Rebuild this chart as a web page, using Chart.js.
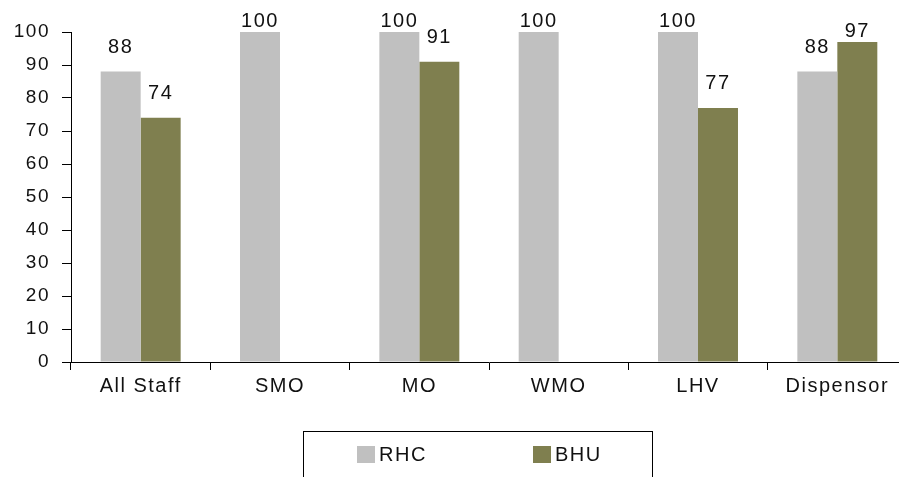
<!DOCTYPE html>
<html>
<head>
<meta charset="utf-8">
<script src="https://cdn.jsdelivr.net/npm/chart.js@4/dist/chart.umd.min.js"></script>
<style>
  html, body { margin: 0; padding: 0; background: #fff; overflow: hidden; }
  #wrap { width: 907px; height: 477px; }
</style>
</head>
<body>
<div id="wrap"><canvas id="c" width="907" height="477"></canvas></div>
<script>
// Staff categories and percentages per facility type
const categories = ['All Staff', 'SMO', 'MO', 'WMO', 'LHV', 'Dispensor'];
const rhcValues = [88, 100, 100, 100, 100, 88];
const bhuValues = [74, null, 91, null, 77, 97];
const seriesNames = ['RHC', 'BHU'];

const FONT = "'Liberation Sans', Arial, sans-serif";
const INK = '#111';

// Slightly widened lettering for all canvas text
const spacingPlugin = {
  id: 'spacing',
  beforeUpdate(chart) { chart.ctx.letterSpacing = '1.5px'; },
  beforeDraw(chart) { chart.ctx.letterSpacing = '1.5px'; }
};

// Value labels above each bar
const valueLabels = {
  id: 'valueLabels',
  afterDatasetsDraw(chart) {
    const ctx = chart.ctx;
    ctx.save();
    ctx.letterSpacing = '1.5px';
    ctx.font = '20px ' + FONT;
    ctx.fillStyle = INK;
    ctx.textAlign = 'center';
    ctx.textBaseline = 'alphabetic';
    chart.data.datasets.forEach((ds, i) => {
      const meta = chart.getDatasetMeta(i);
      meta.data.forEach((bar, j) => {
        const v = ds.data[j];
        if (v === null || v === undefined) return;
        const gap = v >= 95 ? 5 : 19;
        ctx.fillText(String(v), bar.x, bar.y - gap);
      });
    });
    ctx.restore();
  }
};

// Boxed legend below the plot
const boxLegend = {
  id: 'boxLegend',
  afterDraw(chart) {
    const ctx = chart.ctx;
    ctx.save();
    ctx.letterSpacing = '1.5px';
    ctx.strokeStyle = '#000';
    ctx.lineWidth = 1;
    ctx.strokeRect(303.5, 431.5, 349, 60);
    ctx.font = '20px ' + FONT;
    ctx.textBaseline = 'middle';
    ctx.textAlign = 'left';
    const itemX = [357, 533];
    chart.data.datasets.forEach((ds, i) => {
      const x = itemX[i];
      ctx.fillStyle = ds.backgroundColor;
      ctx.fillRect(x, 446, 18, 17);
      ctx.fillStyle = INK;
      ctx.fillText(ds.label, x + 22, 455);
    });
    ctx.restore();
  }
};

new Chart(document.getElementById('c'), {
  type: 'bar',
  data: {
    labels: categories,
    datasets: [
      { label: seriesNames[0], data: rhcValues, backgroundColor: '#c0c0c0' },
      { label: seriesNames[1], data: bhuValues, backgroundColor: '#7f7f4f' }
    ]
  },
  options: {
    responsive: false,
    animation: false,
    devicePixelRatio: 1,
    layout: { padding: { top: 32, left: 0, right: 0, bottom: 0 } },
    datasets: { bar: { barPercentage: 1, categoryPercentage: 0.574 } },
    plugins: { legend: { display: false }, tooltip: { enabled: false } },
    scales: {
      x: {
        grid: { offset: true, drawOnChartArea: false, tickLength: 8, color: '#000', lineWidth: 1 },
        border: { display: true, color: '#000', width: 1 },
        ticks: { color: INK, font: { family: FONT, size: 20 }, padding: 4, maxRotation: 0 },
        afterFit(scale) { scale.height = 115; }
      },
      y: {
        min: 0, max: 100,
        grid: { drawOnChartArea: false, tickLength: 9, color: '#000', lineWidth: 1 },
        border: { display: true, color: '#000', width: 1 },
        ticks: { stepSize: 10, color: INK, font: { family: FONT, size: 19 }, padding: 12 },
        afterFit(scale) { scale.width = 71; }
      }
    }
  },
  plugins: [spacingPlugin, valueLabels, boxLegend]
});
</script>
</body>
</html>
